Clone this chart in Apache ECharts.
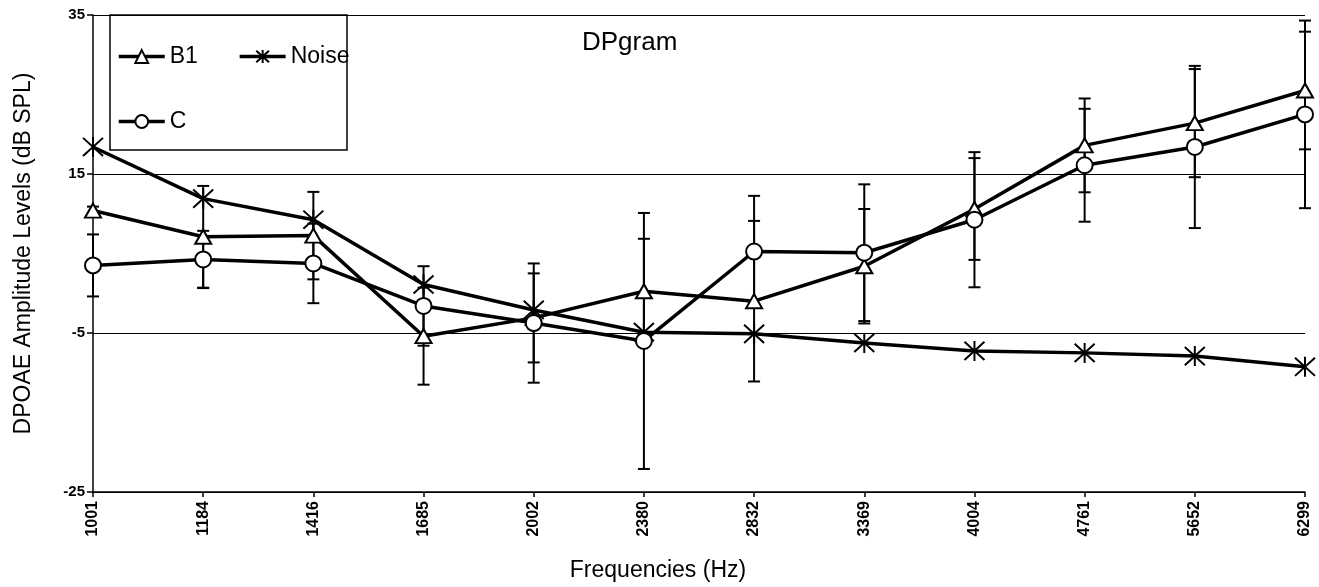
<!DOCTYPE html>
<html>
<head>
<meta charset="utf-8">
<script src="https://cdn.jsdelivr.net/npm/echarts@6/dist/echarts.min.js"></script>
<style>
  html, body { margin: 0; padding: 0; background: #fff; }
  #chart { width: 1319px; height: 587px; }
</style>
</head>
<body>
<div id="chart"></div>
<script>
// x categories (Hz)
const frequencies = ['1001', '1184', '1416', '1685', '2002', '2380', '2832', '3369', '4004', '4761', '5652', '6299'];

// mean levels, dB SPL
const b1 = [10.4, 7.1, 7.25, -5.4, -3.1, 0.25, -1.0, 3.4, 10.6, 18.6, 21.4, 25.5];
const c = [3.5, 4.25, 3.75, -1.6, -3.75, -6.0, 5.25, 5.1, 9.25, 16.1, 18.4, 22.5];
const noise = [18.4, 11.9, 9.25, 1.1, -2.1, -4.9, -5.1, -6.25, -7.25, -7.5, -7.9, -9.25];

// half length of error bars
const b1Err = [0.5, 6.4, 5.5, 6.1, 5.6, 6.6, 10.1, 7.2, 6.4, 5.9, 6.8, 7.4];
const cErr = [3.9, 3.6, 5.0, 5.0, 7.5, 16.1, 7.0, 8.6, 8.5, 7.1, 10.2, 11.8];

const yTicks = { min: -25, max: 35, interval: 20 };

const FONT = '"Liberation Sans", Arial, sans-serif';
const starPath = 'path://M0,0L20,20M20,0L0,20M10,-1L10,21';

const chart = echarts.init(document.getElementById('chart'));

// error bars: [index, low, high]
function errData(mean, err) {
  return mean.map((v, i) => [i, v - err[i], v + err[i]]);
}

function renderErr(params, api) {
  const x = api.value(0);
  const lo = api.coord([x, api.value(1)]);
  const hi = api.coord([x, api.value(2)]);
  const w = 6;
  const style = { stroke: '#000', lineWidth: 2 };
  return {
    type: 'group',
    children: [
      { type: 'line', shape: { x1: lo[0], y1: lo[1], x2: hi[0], y2: hi[1] }, style },
      { type: 'line', shape: { x1: lo[0] - w, y1: lo[1], x2: lo[0] + w, y2: lo[1] }, style },
      { type: 'line', shape: { x1: hi[0] - w, y1: hi[1], x2: hi[0] + w, y2: hi[1] }, style }
    ]
  };
}

const legendText = { color: '#000', fontSize: 23, fontFamily: FONT };

const option = {
  backgroundColor: '#fff',
  animation: false,
  title: {
    text: 'DPgram',
    left: 577,
    top: 25,
    textStyle: { color: '#000', fontSize: 26, fontWeight: 'normal', fontFamily: FONT }
  },
  graphic: [
    {
      type: 'rect',
      z: 0,
      shape: { x: 110, y: 15, width: 237, height: 135 },
      style: { fill: '#fff', stroke: '#000', lineWidth: 1.5 }
    }
  ],
  legend: [
    {
      data: ['B1', 'Noise'],
      left: 112,
      top: 40,
      itemWidth: 46,
      itemHeight: 16,
      itemGap: 40,
      lineStyle: { width: 3.5 },
      textStyle: legendText
    },
    {
      data: ['C'],
      left: 112,
      top: 105,
      itemWidth: 46,
      itemHeight: 16,
      lineStyle: { width: 3.5 },
      textStyle: legendText
    }
  ],
  grid: { left: 93, right: 14, top: 15, bottom: 92 },
  xAxis: {
    type: 'category',
    data: frequencies,
    boundaryGap: false,
    name: 'Frequencies (Hz)',
    nameLocation: 'middle',
    nameGap: 67,
    nameTextStyle: { color: '#000', fontSize: 23, fontFamily: FONT, padding: [0, 82, 0, 0] },
    axisLine: { onZero: false, lineStyle: { color: '#000', width: 1.5 } },
    axisTick: { show: true, length: 5, lineStyle: { color: '#000', width: 1.5 } },
    axisLabel: {
      rotate: 90,
      margin: 9,
      color: '#000',
      fontSize: 16,
      fontWeight: 'bold',
      fontFamily: FONT
    },
    splitLine: { show: false }
  },
  yAxis: {
    type: 'value',
    min: yTicks.min,
    max: yTicks.max,
    interval: yTicks.interval,
    name: 'DPOAE Amplitude Levels (dB SPL)',
    nameLocation: 'middle',
    nameGap: 58,
    nameTextStyle: { color: '#000', fontSize: 23, fontFamily: FONT },
    axisLine: { show: true, lineStyle: { color: '#000', width: 1.5 } },
    axisTick: { show: true, length: 6, lineStyle: { color: '#000', width: 1.5 } },
    axisLabel: { color: '#000', fontSize: 15, fontWeight: 'bold', fontFamily: FONT, margin: 8 },
    splitLine: { show: true, lineStyle: { color: '#000', width: 1.2 } }
  },
  series: [
    {
      name: 'B1 err',
      type: 'custom',
      renderItem: renderErr,
      data: errData(b1, b1Err),
      z: 1,
      silent: true
    },
    {
      name: 'C err',
      type: 'custom',
      renderItem: renderErr,
      data: errData(c, cErr),
      z: 1,
      silent: true
    },
    {
      name: 'B1',
      type: 'line',
      data: b1,
      symbol: 'emptyTriangle',
      symbolSize: [16, 14],
      lineStyle: { color: '#000', width: 3.5 },
      itemStyle: { color: '#000', borderColor: '#000', borderWidth: 2 },
      z: 3
    },
    {
      name: 'Noise',
      type: 'line',
      data: noise,
      symbol: starPath,
      symbolSize: 20,
      lineStyle: { color: '#000', width: 3.5 },
      itemStyle: { color: '#000', borderColor: '#000', borderWidth: 2 },
      z: 3
    },
    {
      name: 'C',
      type: 'line',
      data: c,
      symbol: 'emptyCircle',
      symbolSize: 16,
      lineStyle: { color: '#000', width: 3.5 },
      itemStyle: { color: '#000', borderColor: '#000', borderWidth: 2 },
      z: 3
    }
  ]
};

chart.setOption(option);
</script>
</body>
</html>
